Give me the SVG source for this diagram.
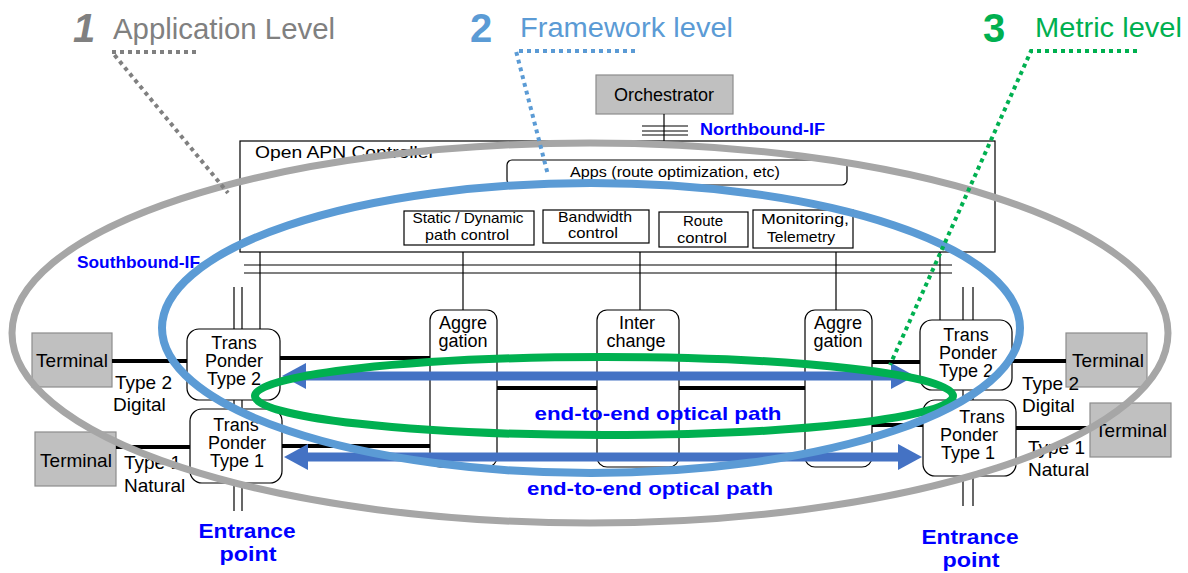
<svg xmlns="http://www.w3.org/2000/svg" width="1188" height="573" viewBox="0 0 1188 573">
<defs>
<style>
text{font-family:"Liberation Sans",Arial,sans-serif;}
.box{fill:#fff;stroke:#000;stroke-width:1.2;}
.term{fill:#c0c0c0;stroke:#8c8c8c;stroke-width:1.2;}
.t19{font-size:19px;fill:#000;text-anchor:middle;}
.n18{font-size:18px;fill:#000;text-anchor:middle;}
.lbl{font-size:19px;fill:#000;}
.fn{font-size:15px;fill:#000;text-anchor:middle;}
.thin{stroke:#000;stroke-width:1.2;fill:none;}
.fiber{stroke:#000;stroke-width:4;fill:none;}
.arrow{stroke:#4472c4;stroke-width:9;fill:none;marker-start:url(#ah);marker-end:url(#ah);}
.blue{fill:#0000ff;font-weight:bold;}
</style>
<marker id="ah" markerUnits="userSpaceOnUse" viewBox="0 0 24 26" markerWidth="24" markerHeight="26" refX="1" refY="13" orient="auto-start-reverse">
<path d="M0,0 L24,13 L0,26 z" fill="#4472c4"/>
</marker>
</defs>
<rect width="1188" height="573" fill="#fff"/>

<!-- Titles -->
<g id="titles">
<text x="73" y="42" font-size="40" font-weight="bold" font-style="italic" fill="#808080">1</text>
<text x="113" y="39" font-size="29" fill="#808080" textLength="222" lengthAdjust="spacingAndGlyphs">Application Level</text>
<text x="470" y="42" font-size="40" font-weight="bold" fill="#5b9bd5">2</text>
<text x="520" y="37" font-size="27" fill="#5b9bd5" textLength="213" lengthAdjust="spacingAndGlyphs">Framework level</text>
<text x="983" y="42" font-size="40" font-weight="bold" fill="#00b050">3</text>
<text x="1035" y="37" font-size="28" fill="#00b050" textLength="147" lengthAdjust="spacingAndGlyphs">Metric level</text>
</g>

<!-- Nodes -->
<g id="orchestrator">
<rect x="596" y="75" width="137" height="39" class="term"/>
<text x="664" y="101" font-size="18" text-anchor="middle">Orchestrator</text>
</g>
<g id="controller">
<rect x="240" y="141" width="755" height="111" fill="#fff" stroke="#000" stroke-width="1.2"/>
<text x="255" y="158" font-size="16" textLength="180" lengthAdjust="spacingAndGlyphs">Open APN Controller</text>
</g>
<g id="apps">
<rect x="507" y="160" width="340" height="25" rx="5" class="box"/>
<text x="675" y="177" font-size="14" text-anchor="middle" textLength="210" lengthAdjust="spacingAndGlyphs">Apps (route optimization, etc)</text>
</g>
<g id="path-control">
<rect x="404" y="211" width="130" height="34" class="box"/>
<text x="468" y="223" class="fn" textLength="111" lengthAdjust="spacingAndGlyphs">Static / Dynamic</text>
<text x="467" y="240" class="fn" textLength="84" lengthAdjust="spacingAndGlyphs">path control</text>
</g>
<g id="bandwidth-control">
<rect x="543" y="210" width="106" height="33" class="box"/>
<text x="595" y="222" class="fn" textLength="74" lengthAdjust="spacingAndGlyphs">Bandwidth</text>
<text x="593" y="238" class="fn" textLength="50" lengthAdjust="spacingAndGlyphs">control</text>
</g>
<g id="route-control">
<rect x="659" y="212" width="89" height="35" class="box"/>
<text x="703" y="226" class="fn" textLength="40" lengthAdjust="spacingAndGlyphs">Route</text>
<text x="702" y="243" class="fn" textLength="50" lengthAdjust="spacingAndGlyphs">control</text>
</g>
<g id="monitoring">
<rect x="753" y="210" width="100" height="38" class="box"/>
<text x="805" y="224" class="fn" textLength="88" lengthAdjust="spacingAndGlyphs">Monitoring,</text>
<text x="801" y="242" class="fn" textLength="68" lengthAdjust="spacingAndGlyphs">Telemetry</text>
</g>

<g id="terminal-l2">
<rect x="32" y="333" width="80" height="54" class="term"/>
<text x="72" y="367" class="t19">Terminal</text>
</g>
<g id="terminal-l1">
<rect x="35" y="432" width="81" height="54" class="term"/>
<text x="76" y="467" class="t19">Terminal</text>
</g>
<g id="terminal-r2">
<rect x="1066" y="333" width="81" height="54" class="term"/>
<text x="1108" y="367" class="t19">Terminal</text>
</g>
<g id="terminal-r1">
<rect x="1090" y="403" width="81" height="54" class="term"/>
<text x="1131" y="437" class="t19">Terminal</text>
</g>

<!-- Connectors -->
<g id="connectors">
<line x1="664" y1="114" x2="664" y2="141" class="thin"/>
<line x1="642" y1="126" x2="688" y2="126" class="thin"/>
<line x1="642" y1="131" x2="688" y2="131" class="thin"/>
<line x1="642" y1="135" x2="688" y2="135" class="thin"/>
<line x1="244" y1="265" x2="952" y2="265" class="thin"/>
<line x1="244" y1="273" x2="952" y2="273" class="thin"/>
<line x1="260" y1="252" x2="260" y2="329" class="thin"/>
<line x1="234" y1="287" x2="234" y2="329" class="thin"/>
<line x1="242" y1="287" x2="242" y2="329" class="thin"/>
<line x1="463" y1="252" x2="463" y2="310" class="thin"/>
<line x1="640" y1="252" x2="640" y2="310" class="thin"/>
<line x1="836" y1="252" x2="836" y2="310" class="thin"/>
<line x1="940" y1="252" x2="940" y2="320" class="thin"/>
<line x1="963" y1="287" x2="963" y2="320" class="thin"/>
<line x1="973" y1="287" x2="973" y2="320" class="thin"/>
<line x1="234" y1="400" x2="234" y2="409" class="thin"/>
<line x1="242" y1="400" x2="242" y2="409" class="thin"/>
<line x1="234" y1="483" x2="234" y2="511" class="thin"/>
<line x1="242" y1="483" x2="242" y2="511" class="thin"/>
<line x1="963" y1="390" x2="963" y2="400" class="thin"/>
<line x1="973" y1="390" x2="973" y2="400" class="thin"/>
<line x1="963" y1="476" x2="963" y2="506" class="thin"/>
<line x1="973" y1="476" x2="973" y2="506" class="thin"/>
<line x1="112" y1="361" x2="187" y2="361" class="fiber"/>
<line x1="280" y1="358" x2="430" y2="358" class="fiber"/>
<line x1="497" y1="388" x2="597" y2="388" class="fiber"/>
<line x1="679" y1="388" x2="805" y2="388" class="fiber"/>
<line x1="872" y1="362" x2="920" y2="362" class="fiber"/>
<line x1="1012" y1="361" x2="1066" y2="361" class="fiber"/>
<line x1="116" y1="447" x2="190" y2="447" class="fiber"/>
<line x1="282" y1="446" x2="430" y2="446" class="fiber"/>
<line x1="872" y1="425" x2="923" y2="425" class="fiber"/>
<line x1="1015" y1="428" x2="1090" y2="428" class="fiber"/>
</g>

<g id="tp-l2">
<rect x="187" y="329" width="93" height="71" rx="12" class="box"/>
<text x="234" y="349" class="n18">Trans</text>
<text x="234" y="367" class="n18">Ponder</text>
<text x="234" y="385" class="n18">Type 2</text>
</g>
<g id="tp-l1">
<rect x="190" y="409" width="92" height="74" rx="12" class="box"/>
<text x="236" y="431" class="n18">Trans</text>
<text x="237" y="449" class="n18">Ponder</text>
<text x="237" y="467" class="n18">Type 1</text>
</g>
<g id="tp-r2">
<rect x="920" y="320" width="92" height="70" rx="12" class="box"/>
<text x="966" y="341" class="n18">Trans</text>
<text x="968" y="359" class="n18">Ponder</text>
<text x="966" y="377" class="n18">Type 2</text>
</g>
<g id="tp-r1">
<rect x="923" y="400" width="93" height="76" rx="12" class="box"/>
<text x="982" y="423" class="n18">Trans</text>
<text x="969" y="441" class="n18">Ponder</text>
<text x="968" y="459" class="n18">Type 1</text>
</g>
<g id="aggregation-l">
<rect x="430" y="310" width="67" height="157" rx="10" class="box"/>
<text x="463" y="329" class="n18">Aggre</text>
<text x="463" y="347" class="n18">gation</text>
</g>
<g id="interchange">
<rect x="597" y="310" width="82" height="157" rx="10" class="box"/>
<text x="637" y="329" class="n18">Inter</text>
<text x="636" y="347" class="n18">change</text>
</g>
<g id="aggregation-r">
<rect x="805" y="310" width="67" height="157" rx="10" class="box"/>
<text x="838" y="329" class="n18">Aggre</text>
<text x="838" y="347" class="n18">gation</text>
</g>

<!-- Labels -->
<g id="labels">
<text x="700" y="135" font-size="16" class="blue" textLength="125" lengthAdjust="spacingAndGlyphs">Northbound-IF</text>
<text x="77" y="268" font-size="17" class="blue" textLength="123" lengthAdjust="spacingAndGlyphs">Southbound-IF</text>
<text x="115" y="389" class="lbl">Type 2</text>
<text x="113" y="411" class="lbl">Digital</text>
<text x="124" y="469" class="lbl">Type 1</text>
<text x="124" y="492" class="lbl">Natural</text>
<text x="1022" y="390" class="lbl">Type 2</text>
<text x="1022" y="412" class="lbl">Digital</text>
<text x="1028" y="454" class="lbl">Type 1</text>
<text x="1028" y="476" class="lbl">Natural</text>
<text x="247" y="538" font-size="20" class="blue" text-anchor="middle" textLength="97" lengthAdjust="spacingAndGlyphs">Entrance</text>
<text x="248" y="561" font-size="20" class="blue" text-anchor="middle" textLength="57" lengthAdjust="spacingAndGlyphs">point</text>
<text x="970" y="544" font-size="20" class="blue" text-anchor="middle" textLength="97" lengthAdjust="spacingAndGlyphs">Entrance</text>
<text x="971" y="567" font-size="20" class="blue" text-anchor="middle" textLength="57" lengthAdjust="spacingAndGlyphs">point</text>
</g>

<!-- End-to-end paths -->
<g id="optical-paths">
<line x1="305" y1="376" x2="892" y2="376" class="arrow"/>
<line x1="307" y1="457" x2="899" y2="457" class="arrow"/>
<text x="658" y="420" font-size="19" class="blue" text-anchor="middle" textLength="247" lengthAdjust="spacingAndGlyphs">end-to-end optical path</text>
<text x="650" y="495" font-size="19" class="blue" text-anchor="middle" textLength="246" lengthAdjust="spacingAndGlyphs">end-to-end optical path</text>
</g>

<!-- Level ellipses -->
<g id="levels" fill="none">
<ellipse cx="604" cy="396" rx="349" ry="39" stroke="#00b050" stroke-width="8"/>
<ellipse cx="591" cy="328" rx="429" ry="145" stroke="#5b9bd5" stroke-width="8"/>
<ellipse cx="590" cy="333" rx="578" ry="190" stroke="#a6a6a6" stroke-width="7"/>
</g>

<!-- Leader lines -->
<g id="leaders" fill="none" stroke-width="4" stroke-dasharray="4 4">
<polyline points="196,52 112,52 228,193" stroke="#808080"/>
<polyline points="635,51 516,51 548,175" stroke="#5b9bd5"/>
<polyline points="1137,51 1031,51 890,365" stroke="#00b050"/>
</g>
</svg>
